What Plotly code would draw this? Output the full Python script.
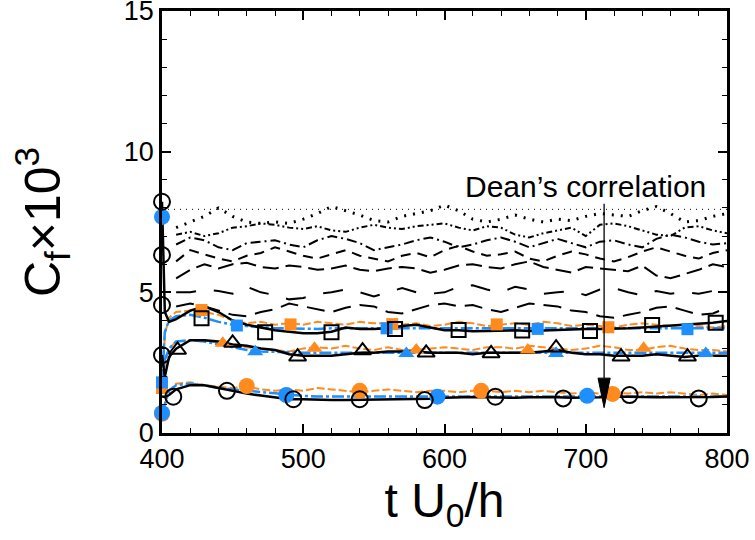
import plotly.graph_objects as go

# ---------------- data ----------------
t_line = list(range(410, 801, 10))  # 410..800 step 10 (40 pts)

dean_x = [400, 800]
dean_y = [7.95, 7.95]

# upper (black) curves, values at t_line
cB = [7.3, 7.5, 7.7, 8.0, 7.7, 7.5, 7.45, 7.5, 7.45, 7.6, 7.8, 8.05, 7.9, 7.75, 7.55, 7.5, 7.7, 7.8, 7.9, 8.1,
      7.9, 7.6, 7.5, 7.6, 7.75, 7.6, 7.5, 7.6, 7.55, 7.7, 7.8, 7.75, 7.7, 7.9, 8.05, 7.8, 7.5, 7.55, 7.7, 7.8]
cC = [7.05, 7.15, 7.0, 7.1, 7.3, 7.35, 7.45, 7.4, 7.3, 7.25, 7.35, 7.2, 7.15, 7.3, 7.4, 7.3, 7.25, 7.35, 7.4, 7.45,
      7.3, 7.2, 7.35, 7.3, 7.05, 6.95, 7.1, 7.2, 7.3, 7.0, 7.4, 7.45, 7.35, 7.2, 7.05, 7.0, 7.3, 7.35, 7.2, 7.1]
cD = [6.7, 6.95, 6.85, 6.6, 6.5, 6.75, 6.8, 6.85, 6.7, 6.6, 6.85, 7.0, 6.9, 6.75, 6.5, 6.6, 6.7, 6.85, 6.95, 6.8,
      6.6, 6.7, 6.85, 6.95, 6.8, 6.6, 6.75, 6.9, 6.75, 6.6, 6.8, 6.85, 6.7, 6.6, 6.9, 7.05, 6.95, 6.8, 6.7, 6.75]
cE = [6.1, 6.5, 6.35, 6.2, 6.1, 6.3, 6.4, 6.6, 6.45, 6.3, 6.2, 6.35, 6.5, 6.3, 6.2, 6.1, 6.3, 6.4, 6.25, 6.5,
      6.65, 6.45, 6.3, 6.35, 6.45, 6.2, 6.1, 6.3, 6.45, 6.35, 6.2, 6.1, 6.25, 6.45, 6.6, 6.45, 6.3, 6.2, 6.4, 6.5]
cF = [5.5, 5.8, 6.0, 5.85, 6.0, 6.05, 5.9, 5.85, 5.95, 5.9, 5.8, 5.85, 5.95, 5.8, 5.75, 5.85, 5.9, 5.85, 5.7, 5.8,
      5.95, 6.0, 5.9, 5.85, 6.0, 6.1, 5.9, 5.8, 5.7, 5.9, 5.85, 5.8, 5.75, 5.95, 5.6, 5.5, 5.65, 5.8, 6.0, 5.9]
cG = [5.0, 5.0, 5.1, 5.05, 4.95, 5.2, 5.0, 4.9, 4.75, 4.8, 4.95, 5.0, 5.1, 5.0, 4.85, 5.0, 5.15, 5.0, 4.95, 5.0,
      5.2, 5.25, 5.1, 5.0, 5.2, 5.1, 4.95, 5.0, 5.05, 4.9, 5.1, 5.15, 5.0, 4.9, 5.05, 4.95, 5.0, 4.95, 5.05, 4.9]
cH = [4.5, 4.6, 4.5, 4.35, 4.2, 4.15, 4.3, 4.4, 4.6, 4.5, 4.4, 4.3, 4.45, 4.55, 4.5, 4.3, 4.25, 4.4, 4.55, 4.6,
      4.5, 4.55, 4.4, 4.3, 4.45, 4.6, 4.55, 4.5, 4.35, 4.3, 4.15, 4.1, 4.2, 4.3, 4.45, 4.5, 4.35, 4.2, 4.25, 4.45]

# lower groups: start transient points then t_line values
t_start = [400, 402, 405]
g3_black = [8.22, 4.3, 3.95] + [4.05, 4.35, 4.5, 4.3, 4.0, 3.85, 3.75, 3.65, 3.6, 3.55, 3.55, 3.6, 3.75, 3.7, 3.7, 3.72, 3.8, 3.85, 3.75, 3.65,
      3.65, 3.62, 3.63, 3.65, 3.65, 3.63, 3.65, 3.68, 3.7, 3.7, 3.7, 3.7, 3.72, 3.75, 3.78, 3.82, 3.85, 3.88, 3.92, 3.98]
g3_blue = [1.8, 3.6, 4.0] + [4.15, 4.2, 4.1, 3.95, 3.85, 3.8, 3.75, 3.72, 3.72, 3.7, 3.7, 3.72, 3.72, 3.7, 3.7, 3.72, 3.72, 3.72, 3.7, 3.72,
      3.72, 3.7, 3.7, 3.7, 3.72, 3.72, 3.7, 3.7, 3.72, 3.72, 3.7, 3.7, 3.7, 3.72, 3.72, 3.7, 3.7, 3.7, 3.72, 3.72]
g3_orange = [1.6, 3.5, 4.1] + [4.3, 4.35, 4.3, 4.2, 4.0, 3.9, 3.95, 3.85, 3.9, 3.85, 3.95, 3.9, 3.85, 3.95, 3.9, 3.9, 3.85, 3.9, 3.8, 3.85,
      3.95, 3.9, 3.8, 3.85, 3.9, 3.85, 3.95, 3.9, 3.8, 3.85, 3.8, 3.75, 3.85, 3.9, 3.85, 3.8, 3.85, 3.8, 3.75, 3.8]

g2_black = [2.77, 2.0, 2.7] + [3.0, 3.3, 3.3, 3.25, 3.15, 3.1, 3.0, 2.95, 2.8, 2.75, 2.75, 2.75, 2.8, 2.85, 2.85, 2.9, 2.9, 2.9, 2.85, 2.85,
      2.85, 2.8, 2.85, 2.85, 2.85, 2.85, 2.9, 2.95, 2.85, 2.8, 2.8, 2.75, 2.75, 2.75, 2.8, 2.75, 2.7, 2.75, 2.75, 2.75]
g2_blue = [1.8, 2.6, 3.0] + [3.25, 3.3, 3.25, 3.15, 3.05, 2.95, 2.9, 2.88, 2.85, 2.85, 2.85, 2.85, 2.85, 2.85, 2.85, 2.85, 2.85, 2.85, 2.85, 2.85,
      2.85, 2.85, 2.85, 2.85, 2.85, 2.85, 2.85, 2.85, 2.85, 2.85, 2.85, 2.85, 2.85, 2.85, 2.85, 2.85, 2.85, 2.85, 2.85, 2.85]
g2_orange = [1.5, 2.5, 3.0] + [3.25, 3.3, 3.3, 3.2, 3.15, 3.05, 3.0, 2.95, 2.9, 3.0, 3.05, 3.0, 3.1, 3.0, 2.95, 3.05, 2.95, 2.95, 3.0, 3.05,
      3.0, 2.95, 3.05, 3.05, 3.0, 3.1, 3.05, 3.0, 2.95, 3.0, 3.1, 3.05, 2.95, 2.95, 3.05, 3.1, 3.0, 2.95, 2.95, 2.9]

g1_black = [1.3, 1.28, 1.35] + [1.55, 1.7, 1.7, 1.6, 1.5, 1.4, 1.33, 1.27, 1.2, 1.2, 1.18, 1.17, 1.17, 1.18, 1.18, 1.18, 1.2, 1.2, 1.22, 1.25,
      1.27, 1.28, 1.27, 1.25, 1.25, 1.27, 1.28, 1.27, 1.25, 1.25, 1.27, 1.3, 1.3, 1.28, 1.27, 1.27, 1.27, 1.28, 1.28, 1.3]
g1_blue = [0.71, 1.0, 1.5] + [1.7, 1.75, 1.7, 1.6, 1.55, 1.5, 1.45, 1.4, 1.35, 1.32, 1.3, 1.3, 1.3, 1.3, 1.3, 1.3, 1.3, 1.3, 1.3, 1.3,
      1.3, 1.3, 1.3, 1.3, 1.3, 1.3, 1.3, 1.3, 1.3, 1.3, 1.3, 1.3, 1.3, 1.3, 1.3, 1.3, 1.3, 1.3, 1.3, 1.3]
g1_orange = [0.68, 1.0, 1.5] + [1.75, 1.8, 1.7, 1.65, 1.6, 1.65, 1.55, 1.5, 1.55, 1.5, 1.6, 1.55, 1.5, 1.45, 1.5, 1.55, 1.5, 1.45, 1.5, 1.5,
      1.45, 1.5, 1.5, 1.45, 1.5, 1.45, 1.5, 1.45, 1.4, 1.45, 1.4, 1.45, 1.4, 1.45, 1.4, 1.45, 1.4, 1.35, 1.4, 1.35]

# marker positions
m3_black_x = [428, 473, 520, 565, 610, 655, 703, 747, 792]
m3_black_y = [4.08, 3.58, 3.58, 3.7, 3.66, 3.64, 3.63, 3.84, 3.92]
m3_blue_x = [400, 453, 559, 666, 772]
m3_blue_y = [1.8, 3.82, 3.72, 3.70, 3.69]
m3_orange_x = [400, 428, 491, 563, 637, 716]
m3_orange_y = [1.6, 4.37, 3.86, 3.87, 3.86, 3.76]

m2_black_x = [411, 450, 496, 542, 587, 633, 679, 725, 772]
m2_black_y = [2.95, 3.2, 2.71, 2.93, 2.85, 2.83, 3.03, 2.71, 2.71]
m2_blue_x = [466, 573, 679, 785]
m2_blue_y = [2.89, 2.83, 2.83, 2.83]
m2_orange_x = [443, 508, 580, 659, 741]
m2_orange_y = [3.19, 3.01, 2.95, 2.95, 3.01]

m1_black_x = [408, 446, 493, 540, 586, 636, 684, 731, 780]
m1_black_y = [1.29, 1.5, 1.2, 1.2, 1.17, 1.29, 1.23, 1.35, 1.23]
m1_blue_x = [400, 400, 488, 595, 701]
m1_blue_y = [0.71, 7.68, 1.35, 1.29, 1.32]
m1_orange_x = [400, 460, 540, 626, 719]
m1_orange_y = [0.68, 1.67, 1.50, 1.50, 1.39]

init_x = [400, 400, 400, 400]
init_y = [8.22, 6.33, 4.55, 2.77]

arrow_x = 713
arrow_tail_y = 8.15
arrow_head_y = 0.9
label_text = "Dean’s correlation"
label_x = 700
label_y = 8.75

# ---------------- figure ----------------
BLACK = "black"
BLUE = "#1E8FFF"
ORANGE = "#FF8A1E"

fig = go.Figure()

fig.add_trace(go.Scatter(x=dean_x, y=dean_y, mode="lines",
                         line=dict(color=BLACK, width=1, dash="1px,5px")))

upper = [
    (cB, 3, "2px,7px"),
    (cC, 2, "6px,3px,2px,3px,2px,3px"),
    (cD, 2, "10px,4px,2px,4px"),
    (cE, 2, "10px,7px"),
    (cF, 2, "16px,7px"),
    (cG, 2, "20px,18px"),
    (cH, 2, "18px,9px"),
]
for ys, w, d in upper:
    fig.add_trace(go.Scatter(x=t_line, y=ys, mode="lines",
                             line=dict(color=BLACK, width=w, dash=d)))

tx = t_start + t_line
for ys in (g3_orange, g2_orange, g1_orange):
    fig.add_trace(go.Scatter(x=tx, y=ys, mode="lines",
                             line=dict(color=ORANGE, width=2, dash="8px,3px")))
for ys in (g3_blue, g2_blue, g1_blue):
    fig.add_trace(go.Scatter(x=tx, y=ys, mode="lines",
                             line=dict(color=BLUE, width=2.5, dash="12px,3px,3px,3px")))
for ys in (g3_black, g2_black, g1_black):
    fig.add_trace(go.Scatter(x=tx, y=ys, mode="lines",
                             line=dict(color=BLACK, width=2.5)))

def mk(x, y, sym, color, size, open_=False):
    if open_:
        m = dict(symbol=sym + "-open", size=size, color=BLACK, line=dict(width=2, color=BLACK))
    else:
        m = dict(symbol=sym, size=size, color=color, line=dict(width=0))
    fig.add_trace(go.Scatter(x=x, y=y, mode="markers", marker=m, cliponaxis=False))

mk(m3_orange_x, m3_orange_y, "square", ORANGE, 12)
mk(m2_orange_x, m2_orange_y, "triangle-up", ORANGE, 14)
mk(m1_orange_x, m1_orange_y, "circle", ORANGE, 16)
mk(m3_blue_x, m3_blue_y, "square", BLUE, 12)
mk(m2_blue_x, m2_blue_y, "triangle-up", BLUE, 14)
mk(m1_blue_x, m1_blue_y, "circle", BLUE, 16)
mk(m3_black_x, m3_black_y, "square", BLACK, 14, True)
mk(m2_black_x, m2_black_y, "triangle-up", BLACK, 15, True)
mk(m1_black_x, m1_black_y, "circle", BLACK, 16, True)
mk(init_x, init_y, "circle", BLACK, 16, True)

FONT = "Liberation Sans, Arial, sans-serif"

# arrow: thin shaft + long filled head (sizes in data units derived from axis scale)
head_len = 1.05      # in y units (~30 px)
head_half = 4.3      # in x units (~6 px)
fig.add_shape(type="line", xref="x", yref="y",
              x0=arrow_x, x1=arrow_x, y0=arrow_tail_y, y1=arrow_head_y + head_len,
              line=dict(color=BLACK, width=1.3))
fig.add_shape(type="path", xref="x", yref="y",
              path=f"M {arrow_x},{arrow_head_y} L {arrow_x - head_half},{arrow_head_y + head_len} "
                   f"L {arrow_x + head_half},{arrow_head_y + head_len} Z",
              fillcolor=BLACK, line=dict(color=BLACK, width=1))
fig.add_annotation(x=label_x, y=label_y, xref="x", yref="y", text=label_text,
                   showarrow=False, font=dict(family=FONT, size=30, color=BLACK))

axis_common = dict(showline=True, linecolor=BLACK, linewidth=2.5, mirror="ticks",
                   ticks="inside", ticklen=9, tickwidth=1.5, tickcolor=BLACK,
                   showgrid=False, zeroline=False, ticklabeloverflow="allow",
                   automargin=False,
                   tickfont=dict(family=FONT, size=27, color=BLACK))

fig.update_layout(
    width=755, height=540,
    margin=dict(l=162, r=28, t=11, b=107, autoexpand=False),
    paper_bgcolor="white", plot_bgcolor="white",
    showlegend=False,
    xaxis=dict(range=[400, 800], tickvals=[400, 500, 600, 700, 800],
               minor=dict(dtick=20, ticks="inside", ticklen=5, tickcolor=BLACK, tickwidth=1),
               title=dict(text="t U<sub>0</sub>/h", font=dict(family=FONT, size=48, color=BLACK), standoff=0),
               **axis_common),
    yaxis=dict(range=[0, 15], tickvals=[0, 5, 10, 15],
               minor=dict(dtick=1, ticks="inside", ticklen=5, tickcolor=BLACK, tickwidth=1),
               title=dict(text="C<sub>f</sub>×10<sup>3</sup>", font=dict(family=FONT, size=50, color=BLACK), standoff=48),
               **axis_common),
)

fig.write_html("out.html")
